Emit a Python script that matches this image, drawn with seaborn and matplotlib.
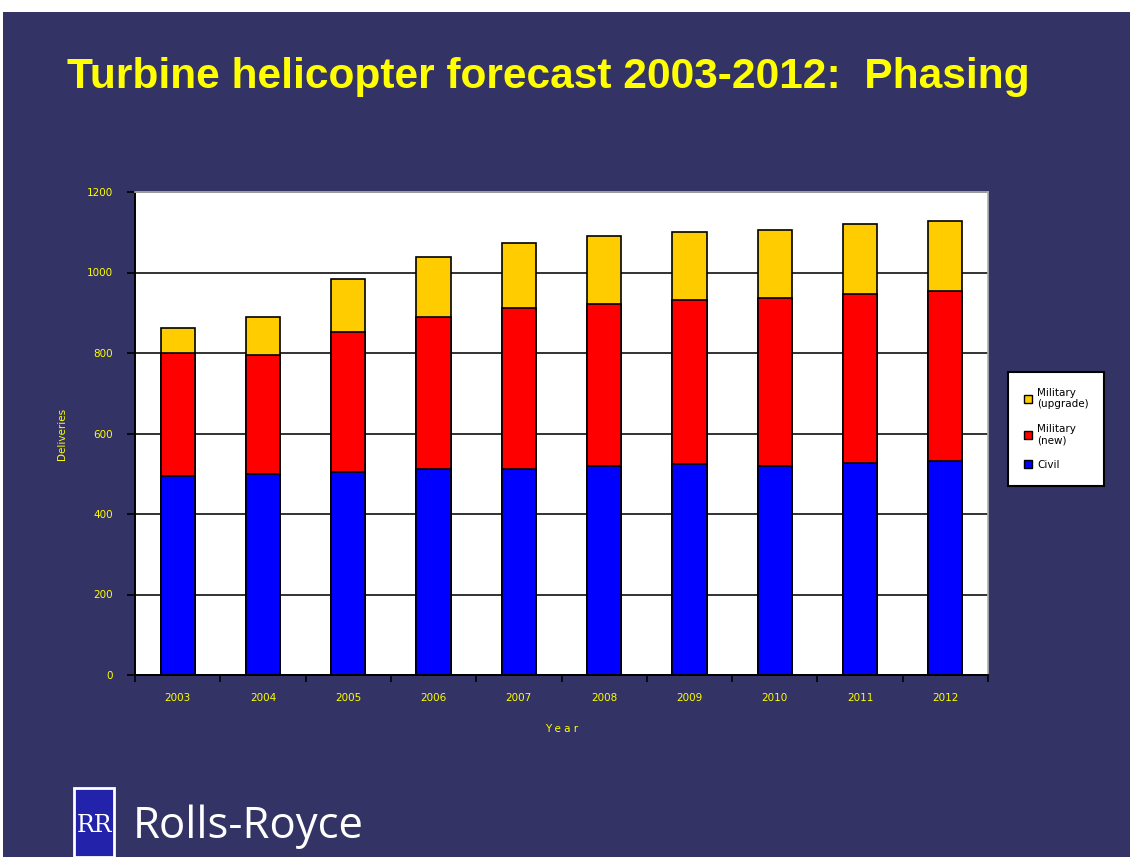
import numpy as np
import pandas as pd
import seaborn as sns
import matplotlib
matplotlib.use('Agg')
import matplotlib.pyplot as plt
from matplotlib.patches import Patch, Rectangle

# values
years = ['2003', '2004', '2005', '2006', '2007', '2008', '2009', '2010', '2011', '2012']
civil = [495, 499, 504, 513, 513, 519, 523, 519, 527, 532]
military_new = [304, 296, 347, 376, 400, 402, 409, 418, 419, 423]
military_upgrade = [62, 94, 133, 150, 160, 170, 169, 169, 175, 174]

df = pd.DataFrame({'Year': years, 'Civil': civil,
                   'Military (new)': military_new,
                   'Military (upgrade)': military_upgrade})
# stacked tops
df['new_top'] = df['Civil'] + df['Military (new)']
df['upg_top'] = df['new_top'] + df['Military (upgrade)']

navy = '#333366'
yellow = '#ffff00'
W, H = 1130, 857

fig = plt.figure(figsize=(W / 100, H / 100), dpi=100)
fig.patch.set_facecolor('white')
fig.patches.append(Rectangle((3 / W, 0), 1, 1 - 12 / H, transform=fig.transFigure,
                             facecolor=navy, edgecolor='none', zorder=-10))

ax = fig.add_axes([135 / W, 1 - 675 / H, 853 / W, 483 / H])
ax.set_facecolor('white')
ax.set_axisbelow(True)

# draw from the tallest layer down so the stacks show through
sns.barplot(data=df, x='Year', y='upg_top', color='#ffcc00', saturation=1, width=0.4,
            edgecolor='black', linewidth=1.2, ax=ax)
sns.barplot(data=df, x='Year', y='new_top', color='#ff0000', saturation=1, width=0.4,
            edgecolor='black', linewidth=1.2, ax=ax)
sns.barplot(data=df, x='Year', y='Civil', color='#0000ff', saturation=1, width=0.4,
            edgecolor='black', linewidth=1.2, ax=ax)

ax.set_ylim(0, 1200)
ax.set_xlim(-0.5, 9.5)
ax.set_yticks(range(0, 1201, 200))
ax.yaxis.grid(True, color='#222222', linewidth=1.3)
ax.xaxis.grid(False)

ax.set_xticks(range(len(years)))
ax.set_xticklabels(years)
ax.set_xticks(np.arange(-0.5, 10, 1), minor=True)
ax.tick_params(axis='x', which='major', length=0, pad=13, labelsize=7.5, labelcolor=yellow)
ax.tick_params(axis='x', which='minor', length=5, width=1.2, color='black')
ax.tick_params(axis='y', length=6, width=1.2, color='black', pad=10,
               labelsize=7.5, labelcolor=yellow)

for side in ['left', 'bottom']:
    ax.spines[side].set_color('black')
    ax.spines[side].set_linewidth(1.4)
for side in ['top', 'right']:
    ax.spines[side].set_color('#b0b0b0')
    ax.spines[side].set_linewidth(1.2)

ax.set_xlabel('Y e a r', color=yellow, fontsize=7.5, labelpad=15)
ax.set_ylabel('Deliveries', color=yellow, fontsize=7.5, labelpad=14)

handles = [Patch(facecolor='#ffcc00', edgecolor='black', label='Military\n(upgrade)'),
           Patch(facecolor='#ff0000', edgecolor='black', label='Military\n(new)'),
           Patch(facecolor='#0000ff', edgecolor='black', label='Civil')]
leg = ax.legend(handles=handles, loc='upper left', bbox_to_anchor=(1008 / W, 1 - 372 / H),
                bbox_transform=fig.transFigure, fontsize=7.5, frameon=True, fancybox=False,
                handlelength=0.8, handleheight=0.8, handletextpad=0.5,
                borderpad=1.5, labelspacing=1.4, borderaxespad=0)
leg.get_frame().set_edgecolor('black')
leg.get_frame().set_linewidth(1.5)
leg.get_frame().set_facecolor('white')
leg.get_frame().set_alpha(1)

fig.text(67 / W, 1 - 88 / H, 'Turbine helicopter forecast 2003-2012:  Phasing',
         color=yellow, fontsize=30.6, fontweight='bold', family='Liberation Sans',
         ha='left', va='baseline')

# Rolls-Royce badge and wordmark
fig.patches.append(Rectangle((74 / W, 0), 40 / W, 69 / H, transform=fig.transFigure,
                             facecolor='#2222aa', edgecolor='white', linewidth=2, zorder=5))
fig.text(94 / W, 1 - 826 / H, 'RR', color='white', fontsize=17, family='DejaVu Serif',
         ha='center', va='center', zorder=6)
fig.text(133 / W, 1 - 838 / H, 'Rolls-Royce', color='white', fontsize=31.5,
         family='Open Sans', ha='left', va='baseline')

fig.savefig('out.png', dpi=100, facecolor=fig.get_facecolor())
